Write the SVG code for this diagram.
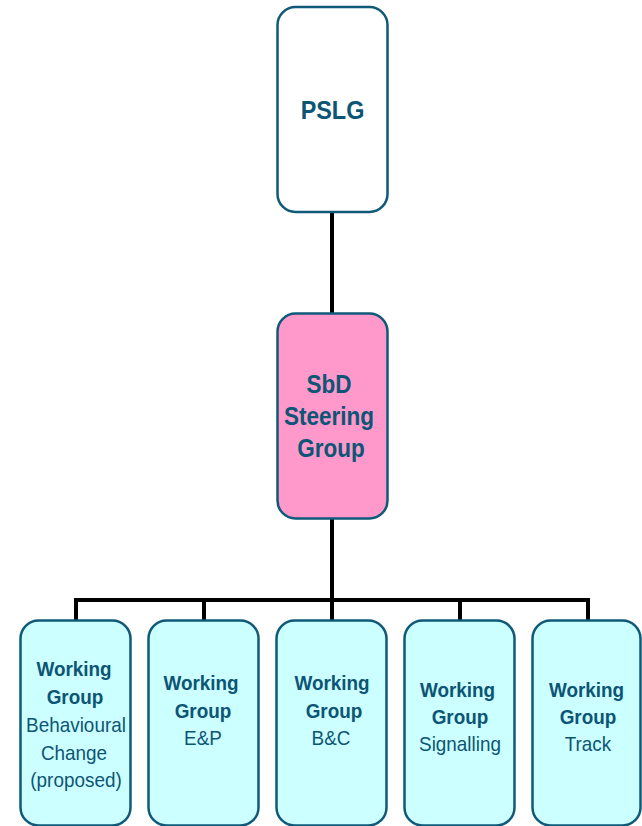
<svg xmlns="http://www.w3.org/2000/svg" width="642" height="826" viewBox="0 0 642 826">
  <style>
    .box { stroke: #0F5A78; stroke-width: 2.5; }
    .top { fill: #FFFFFF; }
    .steer { fill: #FF99CC; }
    .wg { fill: #CCFFFF; }
    .t { font-family: "Liberation Sans", Arial, sans-serif; fill: #0D5574; text-anchor: middle; }
    .b { font-weight: bold; }
    .link { stroke: #000000; stroke-width: 4; fill: none; }
  </style>
  <rect width="642" height="826" fill="#FFFFFF"/>

  <!-- connectors -->
  <g id="connectors">
    <line class="link" x1="332" y1="212" x2="332" y2="314"/>
    <line class="link" x1="332" y1="518" x2="332" y2="600"/>
    <polyline class="link" points="76,621 76,600 588,600 588,621"/>
    <line class="link" x1="204" y1="600" x2="204" y2="621"/>
    <line class="link" x1="332" y1="600" x2="332" y2="621"/>
    <line class="link" x1="460" y1="600" x2="460" y2="621"/>
  </g>

  <g id="pslg">
    <rect class="box top" x="277.5" y="7" width="110" height="205" rx="18"/>
    <text class="t b" font-size="26" transform="translate(332.5,119) scale(0.9,1)">PSLG</text>
  </g>

  <g id="steering">
    <rect class="box steer" x="277.5" y="313.5" width="110" height="205" rx="18"/>
    <g class="t b" font-size="25">
      <text transform="translate(329,393) scale(0.9,1)">SbD</text>
      <text transform="translate(329,425) scale(0.9,1)">Steering</text>
      <text transform="translate(331,457) scale(0.9,1)">Group</text>
    </g>
  </g>

  <g id="wg-behavioural">
    <rect class="box wg" x="20.5" y="620.5" width="110" height="205" rx="18"/>
    <g class="t" font-size="21">
      <text class="b" transform="translate(74,676) scale(0.9,1)">Working</text>
      <text class="b" transform="translate(75,704) scale(0.9,1)">Group</text>
      <text transform="translate(76,732) scale(0.9,1)">Behavioural</text>
      <text transform="translate(74,760) scale(0.9,1)">Change</text>
      <text transform="translate(76,787) scale(0.9,1)">(proposed)</text>
    </g>
  </g>

  <g id="wg-ep">
    <rect class="box wg" x="148.5" y="620.5" width="110" height="205" rx="18"/>
    <g class="t" font-size="21">
      <text class="b" transform="translate(201,690) scale(0.9,1)">Working</text>
      <text class="b" transform="translate(203,718) scale(0.9,1)">Group</text>
      <text transform="translate(203,745) scale(0.9,1)">E&amp;P</text>
    </g>
  </g>

  <g id="wg-bc">
    <rect class="box wg" x="276.5" y="620.5" width="110" height="205" rx="18"/>
    <g class="t" font-size="21">
      <text class="b" transform="translate(332,690) scale(0.9,1)">Working</text>
      <text class="b" transform="translate(334,718) scale(0.9,1)">Group</text>
      <text transform="translate(331,745) scale(0.9,1)">B&amp;C</text>
    </g>
  </g>

  <g id="wg-signalling">
    <rect class="box wg" x="404.5" y="620.5" width="110" height="205" rx="18"/>
    <g class="t" font-size="21">
      <text class="b" transform="translate(457.5,697) scale(0.9,1)">Working</text>
      <text class="b" transform="translate(460,724) scale(0.9,1)">Group</text>
      <text transform="translate(460,751) scale(0.9,1)">Signalling</text>
    </g>
  </g>

  <g id="wg-track">
    <rect class="box wg" x="532.5" y="620.5" width="108" height="205" rx="18"/>
    <g class="t" font-size="21">
      <text class="b" transform="translate(586.5,697) scale(0.9,1)">Working</text>
      <text class="b" transform="translate(588,724) scale(0.9,1)">Group</text>
      <text transform="translate(588,751) scale(0.9,1)">Track</text>
    </g>
  </g>
</svg>
